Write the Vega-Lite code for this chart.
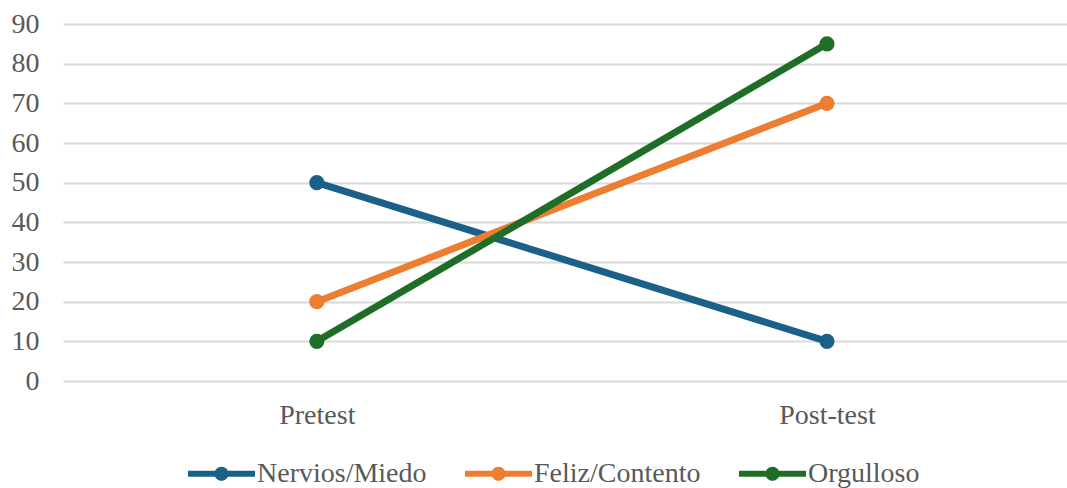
{
  "$schema": "https://vega.github.io/schema/vega-lite/v6.json",
  "autosize": {"type": "none"},
  "width": 1004,
  "height": 357,
  "padding": {"left": 63, "top": 24, "right": 0, "bottom": 107},
  "background": "white",
  "config": {
    "view": {"stroke": null},
    "font": "Liberation Serif",
    "axis": {"labelFont": "Liberation Serif", "labelColor": "#595959", "labelFontSize": 28, "domain": false, "ticks": false},
    "legend": {"labelFont": "Liberation Serif", "labelColor": "#595959", "labelFontSize": 28, "labelLimit": 400}
  },
  "data": {
    "values": [
      {"fase": "Pretest", "emocion": "Nervios/Miedo", "valor": 50},
      {"fase": "Post-test", "emocion": "Nervios/Miedo", "valor": 10},
      {"fase": "Pretest", "emocion": "Feliz/Contento", "valor": 20},
      {"fase": "Post-test", "emocion": "Feliz/Contento", "valor": 70},
      {"fase": "Pretest", "emocion": "Orgulloso", "valor": 10},
      {"fase": "Post-test", "emocion": "Orgulloso", "valor": 85}
    ]
  },
  "mark": {"type": "line", "strokeWidth": 7, "point": {"filled": true, "size": 230, "opacity": 1}},
  "encoding": {
    "x": {
      "field": "fase", "type": "nominal", "sort": ["Pretest", "Post-test"],
      "scale": {"type": "point", "padding": 0.484, "align": 0.514},
      "axis": {"title": null, "labelAngle": 0, "grid": false, "labelPadding": 20}
    },
    "y": {
      "field": "valor", "type": "quantitative",
      "scale": {"domain": [0, 90], "nice": false},
      "axis": {"title": null, "values": [0, 10, 20, 30, 40, 50, 60, 70, 80, 90], "gridColor": "#d9d9d9", "gridWidth": 2, "labelPadding": 24}
    },
    "color": {
      "field": "emocion", "type": "nominal",
      "scale": {"domain": ["Nervios/Miedo", "Feliz/Contento", "Orgulloso"], "range": ["#1b6088", "#ed7d31", "#1e6e27"]},
      "legend": {
        "title": null, "orient": "none", "direction": "horizontal",
        "legendX": 125, "legendY": 416,
        "symbolType": "M-1,-0.09 L1,-0.09 L1,0.09 L-1,0.09 Z M0.21,0 A0.21,0.21 0 1,1 -0.21,0 A0.21,0.21 0 1,1 0.21,0 Z",
        "symbolSize": 4489,
        "symbolStrokeWidth": 0,
        "labelOffset": 2,
        "labelLimit": 400,
        "columnPadding": 38,
        "encode": {"symbols": {"update": {
          "shape": {"value": "M-1,-0.09 L1,-0.09 L1,0.09 L-1,0.09 Z M0.21,0 A0.21,0.21 0 1,1 -0.21,0 A0.21,0.21 0 1,1 0.21,0 Z"},
          "size": {"value": 4489},
          "fill": {"scale": "color", "field": "value"}, "fillOpacity": {"value": 1}, "strokeWidth": {"value": 0}}}}
      }
    }
  }
}
